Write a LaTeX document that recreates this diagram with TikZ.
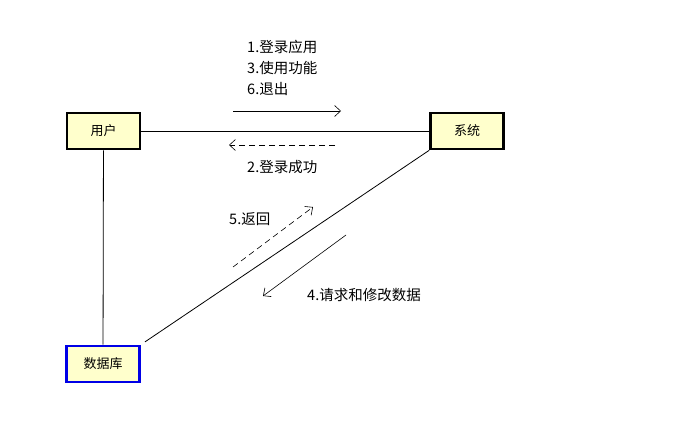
\documentclass[tikz,border=0pt]{standalone}
\usepackage{fontspec}
\setmainfont{Noto Sans CJK SC}
\usetikzlibrary{arrows.meta,positioning}
\definecolor{boxfill}{HTML}{FFFFCC}
\definecolor{dbblue}{HTML}{0000E6}
\begin{document}
\begin{tikzpicture}[
  x=1pt, y=-1pt,
  box/.style={draw, line width=2.6pt, fill=boxfill, minimum width=73pt, minimum height=36pt, inner sep=2pt, font=\fontsize{13}{15}\selectfont},
  dbbox/.style={box, draw=dbblue},
  link/.style={line width=0.8pt},
  arr/.style={-{Straight Barb[length=6pt, width=11pt]}, line width=0.6pt},
  darr/.style={arr, dashed, dash pattern=on 6pt off 4pt},
  lbl/.style={font=\fontsize{14.5}{21}\selectfont, align=left, inner sep=0pt, anchor=west}
]
\useasboundingbox (0,0) rectangle (683,436);
% --- actors ---
\node[box]   (user) at (103.5,131) {用户};
\node[box]   (sys)  at (467,131)   {系统};
\node[dbbox] (db)   at (103,364)   {数据库};
% --- links ---
\draw[link] (user) -- (sys);
\draw[link] (user) -- (db);
\draw[link, shorten <=5pt] (db.north east) -- (sys.south west);
% --- message ends ---
\coordinate (m1s) at (233,111);
\coordinate (m1e) at (341,111);
\coordinate (m2s) at (335,145);
\coordinate (m2e) at (229,145);
\coordinate (m5s) at (233,267);
\coordinate (m5e) at (313,207);
\coordinate (m4s) at (346,235);
\coordinate (m4e) at (263,296);
% --- messages ---
\draw[arr]  (m1s) -- (m1e);
\draw[darr] (m2s) -- (m2e);
\draw[darr] (m5s) -- (m5e);
\draw[arr]  (m4s) -- (m4e);
\node[lbl] (t1) at (247,68) {1.登录应用\\3.使用功能\\6.退出};
\node[lbl] (t2) at (247,167) {2.登录成功};
\node[lbl] (t5) at (229,219) {5.返回};
\node[lbl] (t4) at (307,295) {4.请求和修改数据};
\end{tikzpicture}
\end{document}
